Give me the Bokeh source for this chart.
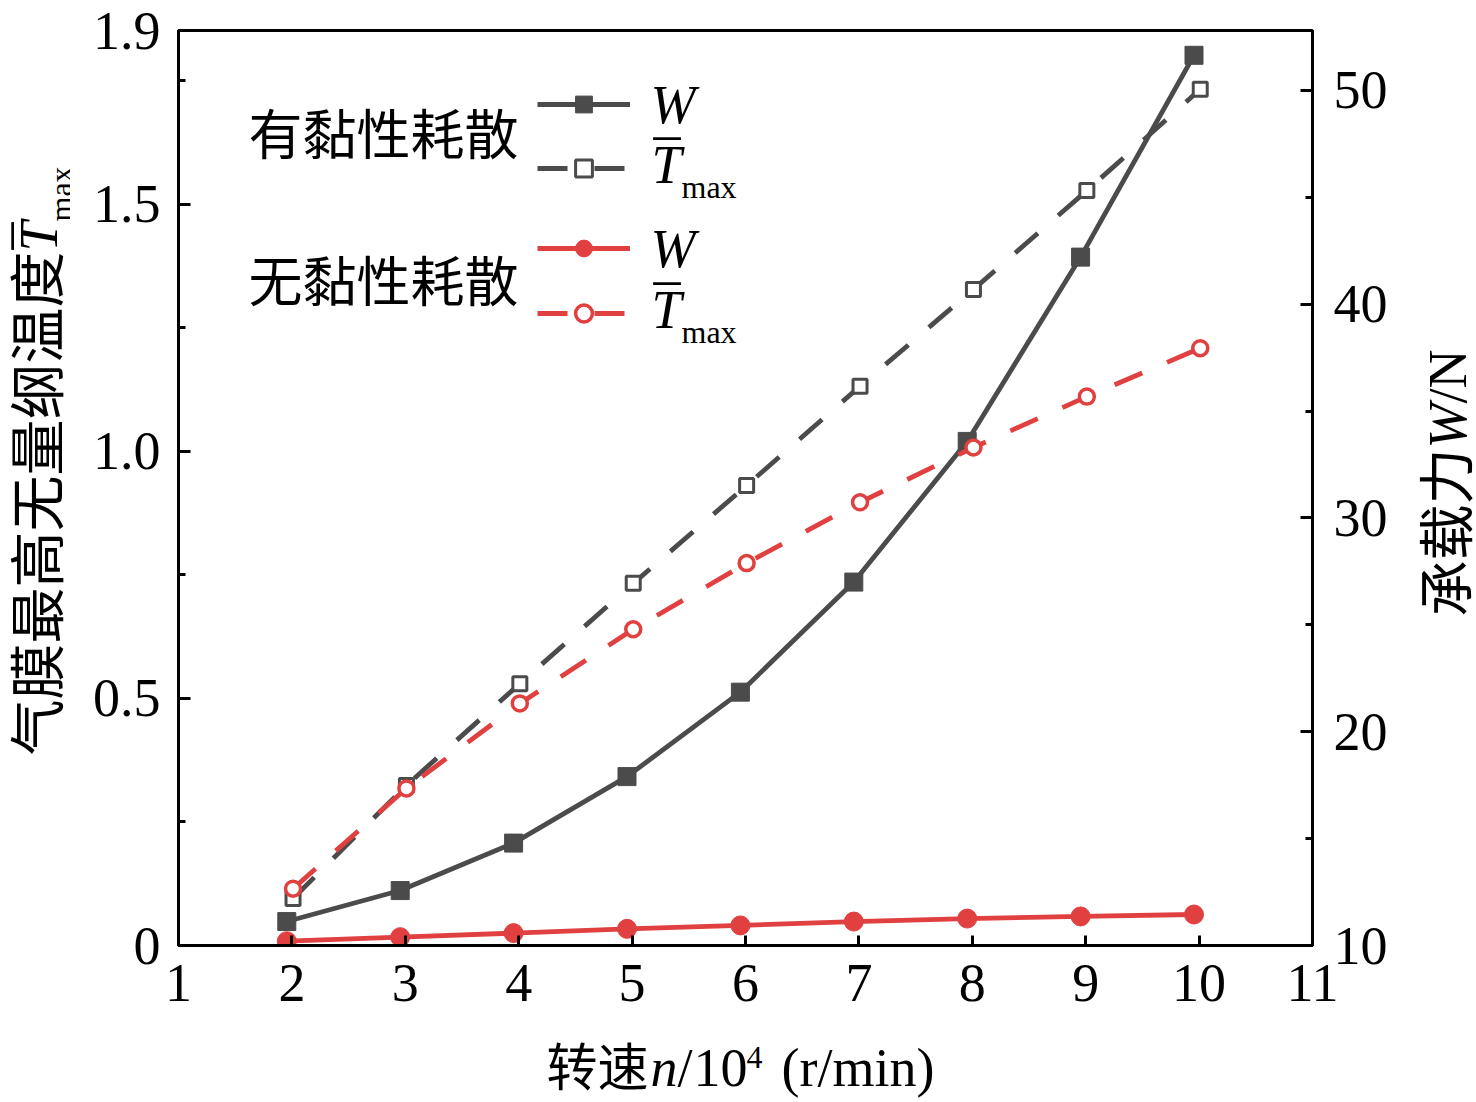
import math
from bokeh.plotting import figure
from bokeh.layouts import row, column
from bokeh.models import Range1d, LinearAxis, FixedTicker, Label, Legend, LegendItem
from bokeh.embed import file_html
from bokeh.resources import INLINE

# ---------------- data ----------------
speed_filled = [1.955, 2.955, 3.955, 4.955, 5.955, 6.955, 7.955, 8.955, 9.955]
speed_hollow = [2.01, 3.01, 4.01, 5.01, 6.01, 7.01, 8.01, 9.01, 10.01]
W_visc = [11.12, 12.57, 14.79, 17.9, 21.85, 27.0, 33.58, 42.2, 51.64]
T_visc = [0.095, 0.324, 0.530, 0.733, 0.931, 1.132, 1.328, 1.528, 1.733]
W_novisc = [10.2, 10.39, 10.58, 10.78, 10.94, 11.12, 11.26, 11.36, 11.45]
T_novisc = [0.115, 0.318, 0.490, 0.640, 0.774, 0.897, 1.008, 1.111, 1.209]

x_ticks = [1, 2, 3, 4, 5, 6, 7, 8, 9, 10, 11]
T_ticks = [0, 0.5, 1.0, 1.5, 1.852]
T_tick_labels = ["0", "0.5", "1.0", "1.5", "1.9"]
T_minor = [0.25, 0.75, 1.25, 1.75]
W_ticks = [10, 20, 30, 40, 50]
W_minor = [15, 25, 35, 45]

GRAY = "#4b4b4b"
RED = "#e0403f"
SERIF = "Liberation Serif"
CJK = "Noto Sans CJK SC"

# ---------------- page geometry ----------------
LEFT_W, MAIN_W, RIGHT_W = 70, 1342, 64
TOP_H, BOTTOM_H = 1028, 74
FL, FT, FW, FH = 108, 30, 1134, 915
FRAME_X0 = LEFT_W + FL          # page x of frame left
FRAME_Y1 = FT + FH              # page y of frame bottom

p = figure(width=MAIN_W, height=TOP_H, x_range=Range1d(1, 11), y_range=Range1d(0, 1.852),
           output_backend="svg", toolbar_location=None,
           min_border_left=FL, min_border_right=MAIN_W - FL - FW,
           min_border_top=FT, min_border_bottom=TOP_H - FT - FH)
p.extra_y_ranges = {"W": Range1d(10, 52.8)}
p.xgrid.visible = False
p.ygrid.visible = False
p.outline_line_color = "black"
p.outline_line_width = 3
p.background_fill_color = "white"
p.border_fill_color = "white"

left = p.yaxis[0]
bottom = p.xaxis[0]
right = LinearAxis(y_range_name="W")
p.add_layout(right, "right")

left.ticker = FixedTicker(ticks=T_ticks, minor_ticks=T_minor)
left.major_label_overrides = {t: s for t, s in zip(T_ticks, T_tick_labels)}
right.ticker = FixedTicker(ticks=W_ticks, minor_ticks=W_minor)
right.major_label_overrides = {t: str(t) for t in W_ticks}
bottom.ticker = FixedTicker(ticks=x_ticks, minor_ticks=[])
bottom.major_label_overrides = {t: str(t) for t in x_ticks}

for ax in (left, right, bottom):
    ax.axis_line_width = 3
    ax.axis_line_color = "black"
    ax.major_tick_line_width = 3
    ax.major_tick_line_color = "black"
    ax.minor_tick_line_width = 3
    ax.minor_tick_line_color = "black"
    ax.major_tick_in = 12
    ax.major_tick_out = 0
    ax.minor_tick_in = 7
    ax.minor_tick_out = 0
    ax.major_label_text_font = SERIF
    ax.major_label_text_font_size = "54px"
    ax.major_label_text_color = "black"
    ax.axis_label = None
bottom.major_tick_in = 10
left.major_label_standoff = 18
right.major_label_standoff = 21
bottom.major_label_standoff = 19

# ---------------- series ----------------
LW = 4.8
l_wv = p.line(speed_filled, W_visc, y_range_name="W", line_color=GRAY, line_width=LW)
s_wv = p.scatter(speed_filled, W_visc, y_range_name="W", marker="square", size=18,
                 fill_color=GRAY, line_color=GRAY)
l_tv = p.line(speed_hollow, T_visc, line_color=GRAY, line_width=LW, line_dash="30 27")
s_tv = p.scatter(speed_hollow, T_visc, marker="square", size=14, line_color=GRAY,
                 fill_color="white", line_width=3)
l_wn = p.line(speed_filled, W_novisc, y_range_name="W", line_color=RED, line_width=LW)
s_wn = p.scatter(speed_filled, W_novisc, y_range_name="W", marker="circle", size=19,
                 fill_color=RED, line_color=RED)
l_tn = p.line(speed_hollow, T_novisc, line_color=RED, line_width=LW, line_dash="30 27")
s_tn = p.scatter(speed_hollow, T_novisc, marker="circle", size=15, line_color=RED,
                 fill_color="white", line_width=3.5)

# ---------------- legend samples ----------------
def make_legend(items, loc, spacing):
    return Legend(items=[LegendItem(label=" ", renderers=r) for r in items],
                  location=loc, orientation="vertical", glyph_width=93, glyph_height=42,
                  spacing=spacing, padding=0, margin=0, label_standoff=0, label_width=0,
                  label_height=0, label_text_font_size="1px", border_line_color=None,
                  background_fill_alpha=0)

p.add_layout(make_legend([[l_wv, s_wv], [l_tv, s_tv]], (537 - FRAME_X0, FRAME_Y1 - 189), 22))
p.add_layout(make_legend([[l_wn, s_wn], [l_tn, s_tn]], (537 - FRAME_X0, FRAME_Y1 - 334), 23))


# ---------------- text helpers ----------------
def text_fig(w, h):
    f = figure(width=w, height=h, output_backend="svg", toolbar_location=None,
               x_axis_type=None, y_axis_type=None, min_border=0,
               x_range=Range1d(0, 1), y_range=Range1d(0, 1))
    f.outline_line_color = None
    f.background_fill_color = "white"
    f.border_fill_color = "white"
    return f

f_left = text_fig(LEFT_W, TOP_H)
f_right = text_fig(RIGHT_W, TOP_H)
f_bottom = text_fig(LEFT_W + MAIN_W + RIGHT_W, BOTTOM_H)

# target: (figure, page x of its screen origin, page y of its screen origin)
# (frames of plots in one row are aligned with the main frame)
T_MAIN = (p, FRAME_X0, FRAME_Y1)
T_LEFT = (f_left, 0, FRAME_Y1)
T_RIGHT = (f_right, LEFT_W + MAIN_W, FRAME_Y1)
T_BOTTOM = (f_bottom, 0, TOP_H + BOTTOM_H)

ROMAN = {' ': 250, '(': 333, ')': 333, '/': 278, 'N': 722, 'a': 444, 'i': 278, 'm': 778,
         'n': 500, 'r': 333, 'x': 500, '_': 500}
ITALIC = {'n': 500, 'W': 833, 'T': 556}
# distance of the rendered baseline below the anchor, per em
K_SHIFT = {SERIF: 0.3375, CJK: 0.436}


def width_of(text, font, size, style):
    if font == CJK:
        return len(text) * size
    table = ITALIC if style == "italic" else ROMAN
    return sum(table.get(c, 500) for c in text) / 1000.0 * size


def put(target, text, X, Y, font, size, style="normal", vertical=False):
    """X, Y: page position of the start of the baseline."""
    fig, ox, oy = target
    k = K_SHIFT[font] * size
    if vertical:
        ax, ay = X - k, Y
    else:
        ax, ay = X, Y - k
    fig.add_layout(Label(x=ax - ox, y=oy - ay, x_units="screen", y_units="screen", text=text,
                         text_font=font, text_font_size=f"{size}px", text_font_style=style,
                         text_color="black", text_align="left", text_baseline="alphabetic",
                         angle=(math.pi / 2 if vertical else 0.0)))


def runs_at(target, runs, X, Y, vertical=False):
    """runs: (text, font, size, style, baseline_shift, advances, along_offset)"""
    pos = 0.0
    for text, font, size, style, shift, adv, off in runs:
        if vertical:
            put(target, text, X + shift, Y - pos - off, font, size, style, vertical=True)
        else:
            put(target, text, X + pos + off, Y + shift, font, size, style)
        if adv:
            pos += width_of(text, font, size, style)


TBAR = [("_", SERIF, 54, "normal", -50, False, 2),
        ("T", SERIF, 54, "italic", 0, True, 0),
        ("max", SERIF, 32, "normal", 14, True, 0)]

# legend texts
put(T_MAIN, "有黏性耗散", 248, 155, CJK, 54)
put(T_MAIN, "无黏性耗散", 248, 302, CJK, 54)
put(T_MAIN, "W", 650, 123, SERIF, 54, "italic")
put(T_MAIN, "W", 650, 267, SERIF, 54, "italic")
runs_at(T_MAIN, TBAR, 651, 183)
runs_at(T_MAIN, TBAR, 651, 328)

# x-axis title: pieces placed where the reference shows them
XB = 1086
put(T_BOTTOM, "转速", 546, XB, CJK, 51)
put(T_BOTTOM, "n", 650, XB, SERIF, 54, "italic")
put(T_BOTTOM, "/", 677, XB, SERIF, 54)
put(T_BOTTOM, "10", 693, XB, SERIF, 54)
put(T_BOTTOM, "4", 746, XB - 18, SERIF, 32)
put(T_BOTTOM, "(r/min)", 781, XB, SERIF, 54)

# left title (reads bottom to top)
runs_at(T_LEFT, [("气膜最高无量纲温度", CJK, 56, "normal", 0, True, 0)] + TBAR, 57, 755,
        vertical=True)

# right title
runs_at(T_RIGHT, [("承载力", CJK, 56, "normal", 0, True, 0),
                  ("W", SERIF, 54, "italic", 0, True, 0),
                  ("/N", SERIF, 54, "normal", 0, True, 0)], 1466, 616, vertical=True)

layout = column(row(f_left, p, f_right, spacing=0), f_bottom, spacing=0)
open("out.html", "w").write(file_html(layout, INLINE))
